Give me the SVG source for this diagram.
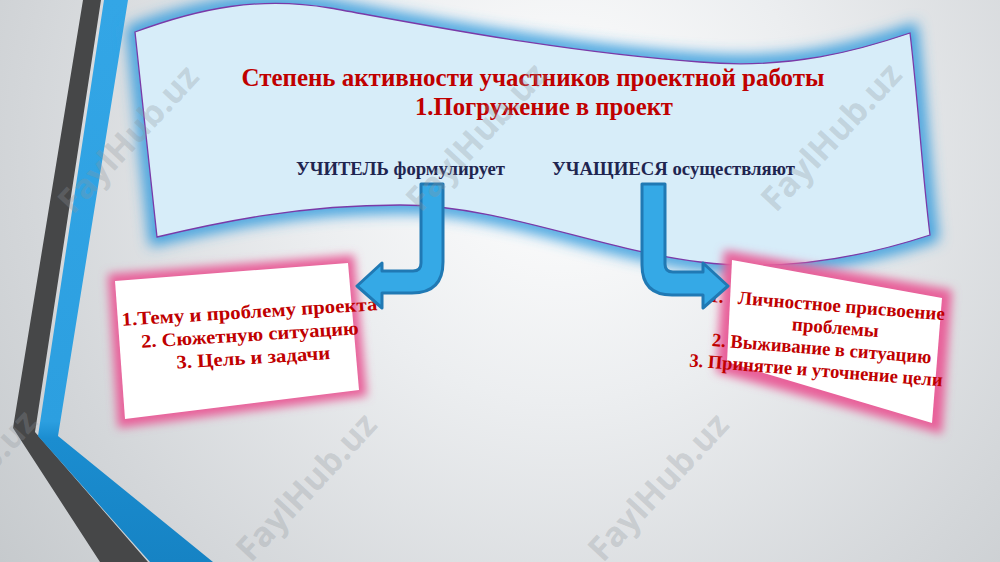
<svg xmlns="http://www.w3.org/2000/svg" width="1000" height="562" viewBox="0 0 1000 562">
<defs>
<radialGradient id="bg" cx="560" cy="150" r="720" gradientUnits="userSpaceOnUse">
<stop offset="0" stop-color="#ffffff"/>
<stop offset="0.35" stop-color="#eceef0"/>
<stop offset="0.75" stop-color="#d3d6d9"/>
<stop offset="1" stop-color="#c4c8cb"/>
</radialGradient>
<linearGradient id="blueband" x1="0" y1="0" x2="0" y2="1">
<stop offset="0" stop-color="#33a6e6"/>
<stop offset="0.75" stop-color="#2c9fe0"/>
<stop offset="0.78" stop-color="#1b8dd0"/>
<stop offset="1" stop-color="#1683c4"/>
</linearGradient>
<filter id="blur8" x="-20%" y="-20%" width="140%" height="140%"><feGaussianBlur stdDeviation="7"/></filter>
<filter id="blur6" x="-20%" y="-20%" width="140%" height="140%"><feGaussianBlur stdDeviation="5"/></filter>
<style>
.title{font-family:"Liberation Serif","Times New Roman",serif;font-weight:bold;fill:#c00000;text-anchor:middle}
.sub{font-family:"Liberation Serif","Times New Roman",serif;font-weight:bold;fill:#1f2550;font-size:18px}
.box{font-family:"Liberation Serif","Times New Roman",serif;font-weight:bold;fill:#c00000;font-size:19px;text-anchor:middle}
.arrow{fill:#35a9e6;stroke:#2079b4;stroke-width:3;stroke-linejoin:round}
.wm{font-family:"Open Sans","DejaVu Sans",sans-serif;font-weight:bold;font-size:34px;fill:#8e959b;fill-opacity:0.3;text-anchor:middle}
.glowpink{fill:#e8609a;filter:url(#blur6)}
</style>
</defs>
<rect x="0" y="0" width="1000" height="562" fill="url(#bg)"/>
<g id="decoration">
<polygon points="83,0 101,0 35,432 148,562 100,562 13,428" fill="#464748"/>
<polygon points="104,0 128,0 58,436 213,562 150,562 38,436" fill="url(#blueband)"/>
</g>
<g id="banner">
<path d="M135,32 C200,8 260,-4 330,8 C420,24 560,52 700,62 C790,70 860,50 910,33 C918,100 922,170 930,235 C860,258 780,272 700,262 C600,250 500,205 400,205 C300,205 220,222 157,237 C150,170 142,100 135,32 Z" fill="none" stroke="#3b9fde" stroke-width="16" filter="url(#blur8)"/>
<path d="M135,32 C200,8 260,-4 330,8 C420,24 560,52 700,62 C790,70 860,50 910,33 C918,100 922,170 930,235 C860,258 780,272 700,262 C600,250 500,205 400,205 C300,205 220,222 157,237 C150,170 142,100 135,32 Z" fill="#d7edf9" stroke="#7a3aa8" stroke-width="1.3"/>
<text class="title" x="533" y="86" font-size="25" textLength="583" lengthAdjust="spacingAndGlyphs">Степень активности участников проектной работы</text>
<text class="title" x="544" y="115" font-size="25" textLength="258" lengthAdjust="spacingAndGlyphs">1.Погружение в проект</text>
<text class="sub" x="296" y="175" textLength="209" lengthAdjust="spacingAndGlyphs">УЧИТЕЛЬ формулирует</text>
<text class="sub" x="552" y="175" textLength="243" lengthAdjust="spacingAndGlyphs">УЧАЩИЕСЯ осуществляют</text>
</g>
<g id="box-left">
<polygon class="glowpink" points="108,274 354,255 367,396 118,428"/>
<polygon points="115,281 348,263 359,390 125,419" fill="#ffffff"/>
<g transform="rotate(-3.5 250 337)">
<text class="box" x="251" y="318" font-size="20" textLength="256" lengthAdjust="spacingAndGlyphs">1.Тему и проблему проекта</text>
<text class="box" x="250" y="341" font-size="20" textLength="218" lengthAdjust="spacingAndGlyphs">2. Сюжетную ситуацию</text>
<text class="box" x="252" y="364" font-size="20" textLength="154" lengthAdjust="spacingAndGlyphs">3. Цель и задачи</text>
</g>
</g>
<g id="box-right">
<polygon class="glowpink" points="724,250 952,290 942,434 716,372"/>
<polygon points="732,260 942,298 932,423 727,362" fill="#ffffff"/>
<g transform="rotate(4.5 825 345)">
<text class="box" x="706" y="311" style="text-anchor:start;white-space:pre" xml:space="preserve" textLength="236" lengthAdjust="spacingAndGlyphs">1.   Личностное присвоение</text>
<text class="box" x="834" y="333">проблемы</text>
<text class="box" x="822" y="355" textLength="220" lengthAdjust="spacingAndGlyphs">2. Выживание в ситуацию</text>
<text class="box" x="818" y="377" textLength="254" lengthAdjust="spacingAndGlyphs">3. Принятие и уточнение цели</text>
</g>
</g>
<g id="connectors">
<path class="arrow" d="M421,184 L443,184 L443,262 Q443,293 412,293 L382,293 L382,308 L357,286 L382,263 L382,271 L413,271 Q421,271 421,263 Z"/>
<path class="arrow" d="M642,184 L665,184 L665,264 Q665,272 673,272 L703,272 L703,263 L728,286 L703,308 L703,295 L672,295 Q642,295 642,265 Z"/>
</g>
<g id="watermarks">
<text class="wm" transform="translate(137,147) rotate(-47)">FaylHub.uz</text>
<text class="wm" transform="translate(485,145) rotate(-47)">FaylHub.uz</text>
<text class="wm" transform="translate(840,145) rotate(-47)">FaylHub.uz</text>
<text class="wm" transform="translate(-25,492) rotate(-47)">FaylHub.uz</text>
<text class="wm" transform="translate(315,495) rotate(-47)">FaylHub.uz</text>
<text class="wm" transform="translate(667,495) rotate(-47)">FaylHub.uz</text>
</g>
</svg>
